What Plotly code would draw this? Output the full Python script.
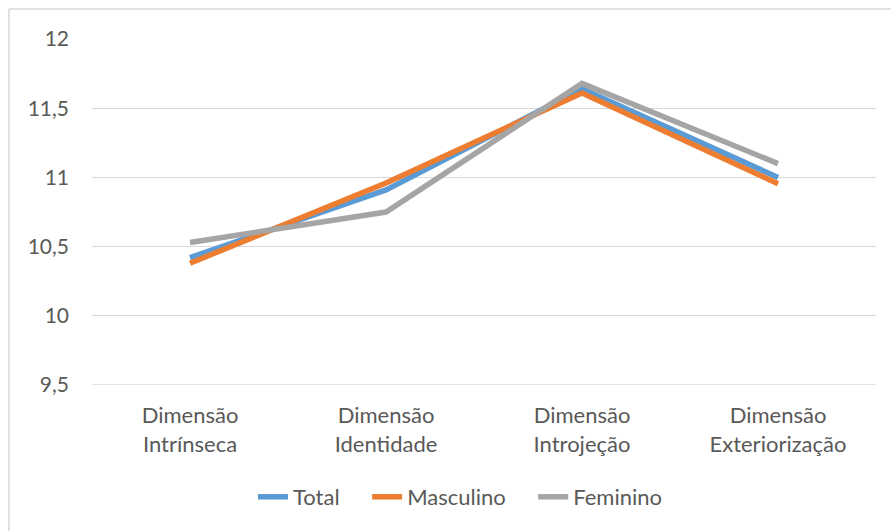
import plotly.graph_objects as go

categories = ["Dimensão<br>Intrínseca", "Dimensão<br>Identidade", "Dimensão<br>Introjeção", "Dimensão<br>Exteriorização"]
total = [10.42, 10.91, 11.64, 11.00]
masculino = [10.38, 10.96, 11.61, 10.955]
feminino = [10.53, 10.75, 11.68, 11.10]
y_ticks = [9.5, 10, 10.5, 11, 11.5, 12]
y_tick_labels = ["9,5", "10", "10,5", "11", "11,5", "12"]

series = [
    ("Total", total, "#5B9BD5"),
    ("Masculino", masculino, "#ED7D31"),
    ("Feminino", feminino, "#A5A5A5"),
]

W, H = 891, 531
ML, MR, MT, MB = 92, 15, 39, 146
pw = W - ML - MR
ph = H - MT - MB

fig = go.Figure()
for i, (name, vals, color) in enumerate(series):
    label = name + ("\u00a0" * 4 if i < len(series) - 1 else "")
    fig.add_trace(go.Scatter(
        x=categories, y=vals, name=label, mode="lines",
        line=dict(color=color, width=5.5),
    ))

font = dict(family="Lato, 'Open Sans', sans-serif", size=21, color="#595959")

# bottom gridline (at the axis minimum)
fig.add_shape(type="line", xref="paper", yref="y", x0=0, x1=1, y0=y_ticks[0], y1=y_ticks[0],
              line=dict(color="#D9D9D9", width=1.3), layer="below")

# outer chart border (top and left edges visible in reference)
bx0 = (9 - ML) / pw
bx1 = (W - ML) / pw
by_top = (H - MB - 9) / ph
by_bot = (H - MB - H) / ph
fig.add_shape(type="line", xref="paper", yref="paper", x0=bx0, x1=bx1, y0=by_top, y1=by_top,
              line=dict(color="#D9D9D9", width=1.5))
fig.add_shape(type="line", xref="paper", yref="paper", x0=bx0, x1=bx0, y0=by_top, y1=by_bot,
              line=dict(color="#D9D9D9", width=1.5))

fig.update_layout(
    width=W, height=H,
    margin=dict(l=ML, r=MR, t=MT, b=MB, autoexpand=False),
    paper_bgcolor="white", plot_bgcolor="white",
    font=font,
    showlegend=True,
    legend=dict(orientation="h", x=(460 - ML) / pw, xanchor="center",
                y=(H - MB - 497) / ph, yanchor="middle",
                font=dict(size=22, color="#595959"),
                bgcolor="rgba(0,0,0,0)"),
    xaxis=dict(range=[-0.5, 3.5], showgrid=False, showline=False, zeroline=False, ticks="",
               automargin=False,
               tickfont=dict(size=22, color="#595959"), ticklabelstandoff=15),
    yaxis=dict(range=[9.5, 12.0005], tickvals=y_ticks, ticktext=y_tick_labels,
               showgrid=True, gridcolor="#D9D9D9", gridwidth=1.3,
               zeroline=False, showline=False, ticks="", automargin=False,
               tickfont=dict(size=21, color="#595959"), ticklabelstandoff=22),
)

fig.write_html("out.html", config={"displayModeBar": False},
               post_script="document.body.style.margin='0';")
